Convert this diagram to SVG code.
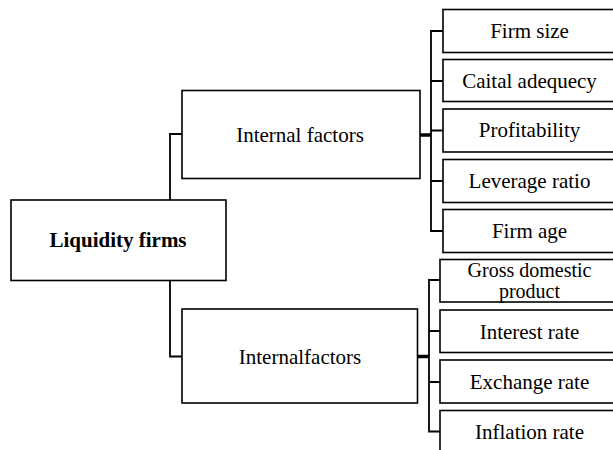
<svg xmlns="http://www.w3.org/2000/svg" width="613" height="450" viewBox="0 0 613 450">
<style>
.box{fill:#fff;stroke:#000;stroke-width:1.6}
.t{font-family:'Liberation Serif','DejaVu Serif','Times New Roman',serif;font-size:21px;fill:#000;text-anchor:middle}
.b{font-weight:bold}
.sm{font-size:20px}
.c{fill:none;stroke:#000;stroke-width:1.8}
.s{fill:none;stroke:#000;stroke-width:3.5}
</style>
<rect width="613" height="450" fill="#fff"/>
<g id="connectors">
<path class="c" d="M182,134 H170 V200 M170,280.5 V356.5 H182"/>
<path class="s" d="M420,135 H431"/>
<path class="c" d="M443,31 H431 V231 H443 M431,81 H443 M431,130.5 H443 M431,181 H443"/>
<path class="s" d="M417.5,356.5 H429"/>
<path class="c" d="M440,280 H429 V431.5 H440 M429,331 H440 M429,382 H440"/>
</g>
<g id="root">
<rect class="box" x="11" y="200" width="215" height="80.5"/>
<text class="t b" x="118" y="247">Liquidity firms</text>
</g>
<g id="internal1">
<rect class="box" x="182" y="90.5" width="238" height="88"/>
<text class="t" x="300" y="142">Internal factors</text>
</g>
<g id="internal2">
<rect class="box" x="182" y="309" width="235.5" height="94"/>
<text class="t" x="300" y="363.5">Internalfactors</text>
</g>
<g id="firmsize">
<rect class="box" x="443" y="9.5" width="190" height="43"/>
<text class="t" x="529.5" y="37.5">Firm size</text>
</g>
<g id="capital">
<rect class="box" x="443" y="59.5" width="190" height="42"/>
<text class="t" x="529.5" y="87.5">Caital adequecy</text>
</g>
<g id="profit">
<rect class="box" x="443" y="109" width="190" height="43"/>
<text class="t" x="529.5" y="137">Profitability</text>
</g>
<g id="leverage">
<rect class="box" x="443" y="159.5" width="190" height="43"/>
<text class="t" x="529.5" y="188">Leverage ratio</text>
</g>
<g id="firmage">
<rect class="box" x="443" y="209.5" width="190" height="43"/>
<text class="t" x="529.5" y="237.5">Firm age</text>
</g>
<g id="gdp">
<rect class="box" x="440" y="259.5" width="190" height="42.5"/>
<text class="t sm" x="529.5" y="276.5">Gross domestic</text>
<text class="t sm" x="529.5" y="298">product</text>
</g>
<g id="interest">
<rect class="box" x="440" y="310" width="190" height="42.5"/>
<text class="t" x="529.5" y="338.5">Interest rate</text>
</g>
<g id="exchange">
<rect class="box" x="440" y="360" width="190" height="43"/>
<text class="t" x="529.5" y="388.5">Exchange rate</text>
</g>
<g id="inflation">
<rect class="box" x="440" y="410.5" width="190" height="60"/>
<text class="t" x="529.5" y="438.5">Inflation rate</text>
</g>
</svg>
